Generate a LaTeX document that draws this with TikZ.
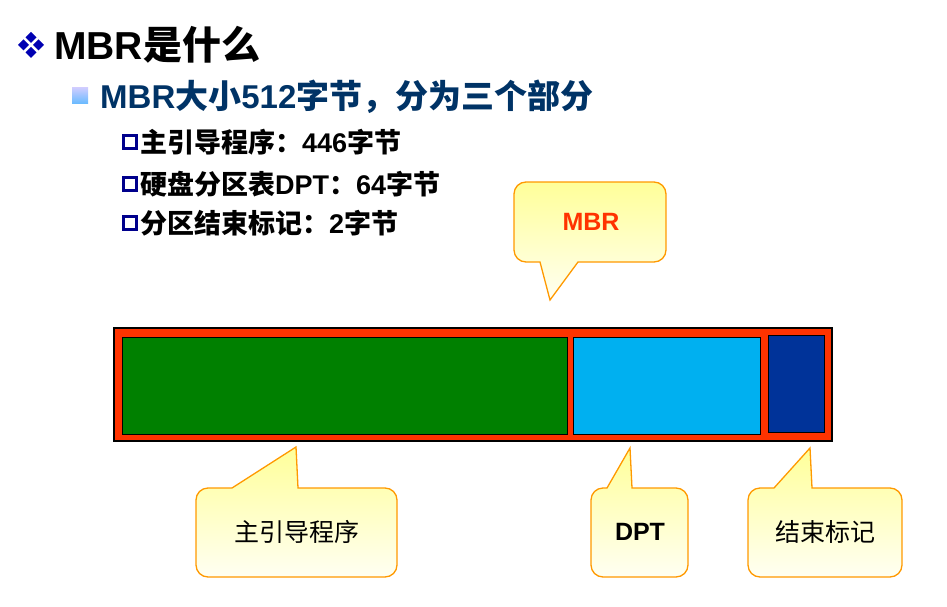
\documentclass[tikz,border=0pt]{standalone}
\usepackage{fontspec}
\setmainfont{Liberation Sans}
\newfontfamily\cjk{Noto Sans CJK SC}
\newcommand{\C}[1]{{\cjk #1}}
\definecolor{mred}{HTML}{FF3300}
\definecolor{lblue}{HTML}{00B0F0}
\definecolor{dblue}{HTML}{003399}
\definecolor{navy}{HTML}{003366}
\definecolor{mgreen}{HTML}{008000}
\definecolor{cborder}{HTML}{FF9900}
\begin{document}
\begin{tikzpicture}[x=1pt,y=-1pt,
  callout/.style={draw=cborder,line width=1.3pt,top color=yellow!40,bottom color=yellow!5},
  seg/.style={draw=black,line width=1pt}]
\useasboundingbox (0,0) rectangle (947,607);
\foreach \dx/\dy in {0/-7.5,-7.5/0,7.5/0,0/7.5}
  \fill[blue!70!black] (31+\dx,45+\dy) +(0,-5.5) -- +(5.5,0) -- +(0,5.5) -- +(-5.5,0) -- cycle;
\node[anchor=west,inner sep=0,font=\bfseries\fontsize{39}{40}\selectfont] (t1) at (54,45) {MBR\C{是什么}};
\fill[top color=blue!20,bottom color=blue!45!cyan!60!white] (72,88) rectangle (88,104);
\node[anchor=west,inner sep=0,text=navy,font=\bfseries\fontsize{33}{34}\selectfont] (t2) at (100,97) {MBR\C{大小}512\C{字节，分为三个部分}};
\foreach \y/\t [count=\i] in {142/{\C{主引导程序：}446\C{字节}},184/{\C{硬盘分区表}DPT\C{：}64\C{字节}},223/{\C{分区结束标记：}2\C{字节}}}{
  \draw[blue!55!black,line width=3pt] (123.5,\y-6.5) rectangle (136.5,\y+6.5);
  \node[anchor=west,inner sep=0,font=\bfseries\fontsize{27}{28}\selectfont] (b\i) at (140,\y) {\t};
}
\filldraw[fill=mred,draw=black,line width=1.5pt] (114,328) rectangle (832,441);
\filldraw[seg,fill=mgreen] (122,337) rectangle (567,434);
\filldraw[seg,fill=lblue] (573,337) rectangle (760,434);
\filldraw[seg,fill=dblue] (768,335) rectangle (824,432);
% callouts
\path[callout] (578,262) [rounded corners=12pt] -- (666,262) -- (666,182) -- (514,182) -- (514,262) [sharp corners] -- (540,262) -- (550,300) -- cycle;
\node[text=mred,font=\bfseries\fontsize{25}{26}\selectfont] (m) at (591,222) {MBR};
\path[callout] (298,488) [rounded corners=12pt] -- (397,488) -- (397,577) -- (196,577) -- (196,488) [sharp corners] -- (232,488) -- (296,447) -- cycle;
\node[font=\fontsize{25}{26}\selectfont] (c1) at (297,532) {\C{主引导程序}};
\path[callout] (632,488) [rounded corners=12pt] -- (688,488) -- (688,577) -- (591,577) -- (591,488) [sharp corners] -- (607,488) -- (630,448) -- cycle;
\node[font=\bfseries\fontsize{25}{26}\selectfont] (c2) at (640,532) {DPT};
\path[callout] (812,488) [rounded corners=12pt] -- (902,488) -- (902,577) -- (748,577) -- (748,488) [sharp corners] -- (774,488) -- (810,448) -- cycle;
\node[font=\fontsize{25}{26}\selectfont] (c3) at (825,532) {\C{结束标记}};
\end{tikzpicture}
\end{document}
